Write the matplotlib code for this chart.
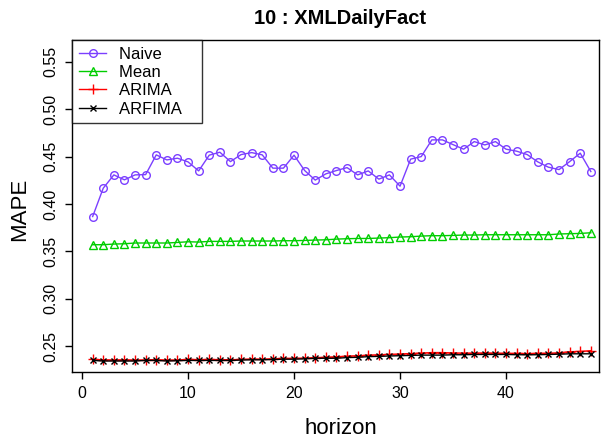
import matplotlib
matplotlib.use("Agg")
import matplotlib.pyplot as plt

plt.rcParams['font.family'] = ['Liberation Sans', 'DejaVu Sans']

horizon = list(range(1, 49))

naive = [0.3868, 0.4167, 0.4307, 0.4255, 0.4307, 0.4310, 0.4518, 0.4465,
         0.4483, 0.4444, 0.4349, 0.4515, 0.4546, 0.4447, 0.4521, 0.4542,
         0.4518, 0.4378, 0.4378, 0.4515, 0.4353, 0.4252, 0.4318, 0.4353,
         0.4384, 0.4307, 0.4349, 0.4262, 0.4307, 0.4188, 0.4473, 0.4500,
         0.4676, 0.4676, 0.4626, 0.4578, 0.4658, 0.4623, 0.4658, 0.4578,
         0.4557, 0.4521, 0.4444, 0.4388, 0.4363, 0.4447, 0.4536, 0.4342]

mean = [0.3571, 0.3571, 0.3578, 0.3581, 0.3589, 0.3589, 0.3589, 0.3589,
        0.3595, 0.3602, 0.3599, 0.3606, 0.3606, 0.3606, 0.3610, 0.3610,
        0.3610, 0.3610, 0.3613, 0.3613, 0.3616, 0.3620, 0.3623, 0.3630,
        0.3634, 0.3637, 0.3637, 0.3641, 0.3645, 0.3652, 0.3655, 0.3662,
        0.3666, 0.3666, 0.3669, 0.3673, 0.3673, 0.3676, 0.3676, 0.3676,
        0.3676, 0.3676, 0.3676, 0.3676, 0.3684, 0.3687, 0.3690, 0.3697]

arima = [0.2362, 0.2358, 0.2356, 0.2358, 0.2355, 0.2357, 0.2360, 0.2355,
         0.2356, 0.2362, 0.2360, 0.2361, 0.2360, 0.2358, 0.2362, 0.2366,
         0.2364, 0.2369, 0.2372, 0.2373, 0.2375, 0.2381, 0.2384, 0.2390,
         0.2396, 0.2401, 0.2406, 0.2411, 0.2414, 0.2419, 0.2424, 0.2429,
         0.2434, 0.2434, 0.2430, 0.2428, 0.2428, 0.2430, 0.2428, 0.2426,
         0.2425, 0.2424, 0.2426, 0.2426, 0.2432, 0.2443, 0.2446, 0.2454]

arfima = [0.2351, 0.2345, 0.2345, 0.2345, 0.2345, 0.2351, 0.2351, 0.2345,
          0.2348, 0.2351, 0.2351, 0.2351, 0.2351, 0.2351, 0.2355, 0.2358,
          0.2358, 0.2361, 0.2364, 0.2364, 0.2368, 0.2374, 0.2374, 0.2374,
          0.2381, 0.2384, 0.2391, 0.2394, 0.2398, 0.2401, 0.2404, 0.2407,
          0.2407, 0.2407, 0.2411, 0.2411, 0.2414, 0.2414, 0.2414, 0.2414,
          0.2411, 0.2411, 0.2411, 0.2414, 0.2417, 0.2421, 0.2421, 0.2421]

x_ticks = [0, 10, 20, 30, 40]
y_ticks = [0.25, 0.30, 0.35, 0.40, 0.45, 0.50, 0.55]

W, H = 604, 440
fig = plt.figure(figsize=(W / 100, H / 100), dpi=100)
ax = fig.add_axes([72.3 / W, 1 - 372.3 / H, (599 - 72.3) / W, (372.3 - 40) / H])

ax.plot(horizon, naive, color='#7b3fff', lw=1.0, marker='o', ms=5.5,
        mfc='none', mew=1.0, label='Naive')
ax.plot(horizon, mean, color='#00cd00', lw=1.0, marker='^', ms=6,
        mfc='none', mew=1.0, label='Mean')
ax.plot(horizon, arima, color='#ff0000', lw=1.0, marker='+', ms=7.5,
        mew=1.0, label='ARIMA')
ax.plot(horizon, arfima, color='black', lw=1.0, marker='x', ms=5,
        mew=1.0, label='ARFIMA')

ax.set_xlim(-0.92, 48.77)
ax.set_ylim(0.2226, 0.5729)
ax.set_xticks(x_ticks)
ax.set_yticks(y_ticks)
ax.set_yticklabels([f'{v:.2f}' for v in y_ticks], rotation=90, va='center')
ax.tick_params(direction='out', length=5, width=1.0, labelsize=11.5, pad=5)
for s in ax.spines.values():
    s.set_linewidth(1.0)

# R-style legend: extra room on the right of the labels
handles, labels = ax.get_legend_handles_labels()
leg = ax.legend(handles, [lab + '   ' for lab in labels], loc='upper left',
                fontsize=12, frameon=True, fancybox=False, borderaxespad=0,
                labelspacing=0.2, handlelength=1.65, handletextpad=0.75,
                borderpad=0.4)
leg.get_frame().set_edgecolor('black')
leg.get_frame().set_linewidth(1.0)

fig.text(340 / W, 1 - 18 / H, '10 : XMLDailyFact', ha='center', va='center',
         fontsize=14.5, fontweight='bold')
fig.text(341 / W, 1 - 428 / H, 'horizon', ha='center', va='center', fontsize=16)
fig.text(20 / W, 1 - 209 / H, 'MAPE', ha='center', va='center', fontsize=16,
         rotation=90)

fig.savefig('out.png', dpi=100)
